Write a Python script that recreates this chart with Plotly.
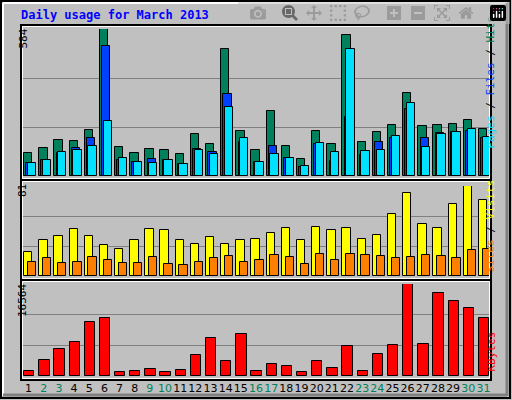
import plotly.graph_objects as go
from plotly.subplots import make_subplots

days = list(range(1, 32))
weekend = [2, 3, 9, 10, 16, 17, 23, 24, 30, 31]

hits = [93, 113, 144, 140, 184, 584, 117, 93, 109, 105, 89, 168, 128, 506, 180, 105,
        260, 120, 69, 180, 128, 561, 136, 176, 204, 331, 200, 204, 208, 224, 188]
files = [53, 65, 90, 111, 152, 518, 65, 57, 69, 65, 49, 109, 97, 327, 136, 57,
         120, 73, 37, 128, 61, 236, 85, 136, 152, 267, 152, 172, 176, 180, 152]
pages = [53, 65, 97, 105, 120, 220, 73, 57, 53, 65, 49, 105, 89, 275, 152, 57,
         89, 73, 41, 132, 97, 506, 101, 105, 160, 291, 117, 168, 176, 188, 156]
visits = [22, 32, 36, 42, 36, 28, 24, 32, 42, 41, 32, 29, 35, 29, 32, 33,
          39, 43, 32, 44, 41, 43, 33, 37, 56, 75, 47, 43, 65, 81, 68]
sites = [13, 16, 12, 13, 17, 14, 12, 12, 17, 11, 10, 13, 16, 18, 13, 14,
         19, 17, 11, 20, 14, 20, 19, 18, 16, 17, 19, 18, 16, 23, 24]
kbytes = [967, 2962, 4776, 6045, 9672, 10397, 786, 967, 1330, 786, 1149, 3869, 6770, 2781, 7496, 967,
          2237, 1874, 786, 2781, 1511, 5320, 967, 4050, 5501, 16564, 5682, 14931, 13480, 12211, 10397]

W, H = 512, 400
def px(x): return x / W
def py(y): return 1 - y / H

fig = make_subplots(rows=3, cols=1, shared_xaxes=True)
edge = dict(color="black", width=1)
fig.add_trace(go.Bar(x=days, y=hits, marker=dict(color="#00805c", line=edge), width=0.55, offset=-0.3), 1, 1)
fig.add_trace(go.Bar(x=days, y=files, marker=dict(color="#0040ff", line=edge), width=0.55, offset=-0.15), 1, 1)
fig.add_trace(go.Bar(x=days, y=pages, marker=dict(color="#00e0ff", line=edge), width=0.55, offset=-0.05), 1, 1)
fig.add_trace(go.Bar(x=days, y=visits, marker=dict(color="#ffff00", line=edge), width=0.55, offset=-0.3), 2, 1)
fig.add_trace(go.Bar(x=days, y=sites, marker=dict(color="#ff8000", line=edge), width=0.55, offset=-0.05), 2, 1)
fig.add_trace(go.Bar(x=days, y=kbytes, marker=dict(color="#ff0000", line=edge), width=0.68, offset=-0.3), 3, 1)

grid = dict(showgrid=True, gridcolor="#808080", gridwidth=1, showticklabels=False,
            zeroline=False, ticks="", showline=False)
fig.update_yaxes(grid, range=[0, 584], tickvals=[584 / 3, 584 * 2 / 3], domain=[py(176), py(29)], row=1, col=1)
fig.update_yaxes(grid, range=[0, 81], tickvals=[81 / 3, 81 * 2 / 3], domain=[py(276), py(186)], row=2, col=1)
fig.update_yaxes(grid, range=[0, 16564], tickvals=[16564 / 3, 16564 * 2 / 3], domain=[py(376), py(284)], row=3, col=1)

ticktext = ["<span style='color:#00805c'>%d</span>" % d if d in weekend else str(d) for d in days]
fig.update_xaxes(range=[0.5, 31.5], domain=[px(21), px(491)], showgrid=False, zeroline=False,
                 showline=False, ticks="", showticklabels=False)
fig.update_xaxes(showticklabels=True, tickvals=days, ticktext=ticktext, tickangle=0,
                 tickfont=dict(family="DejaVu Sans", size=11), ticklabelstandoff=4, row=3, col=1)

shapes = [
    dict(type="rect", xref="paper", yref="paper", x0=px(1), x1=px(510), y0=py(398), y1=py(1),
         line=dict(color="black", width=2)),
    dict(type="line", xref="paper", yref="paper", x0=px(3), x1=px(507), y0=py(3), y1=py(3),
         line=dict(color="white", width=2)),
    dict(type="line", xref="paper", yref="paper", x0=px(3), x1=px(3), y0=py(3), y1=py(396),
         line=dict(color="white", width=2)),
    dict(type="line", xref="paper", yref="paper", x0=px(507), x1=px(507), y0=py(3), y1=py(396),
         line=dict(color="#808080", width=3)),
    dict(type="line", xref="paper", yref="paper", x0=px(3), x1=px(507), y0=py(395), y1=py(395),
         line=dict(color="#808080", width=3)),
]
for y0, y1 in [(25, 180), (180, 280), (280, 380)]:
    shapes.append(dict(type="rect", xref="paper", yref="paper", x0=px(21), x1=px(491),
                       y0=py(y1), y1=py(y0), line=dict(color="black", width=2), layer="above"))
    shapes.append(dict(type="rect", xref="paper", yref="paper", x0=px(22.5), x1=px(489.5),
                       y0=py(y1 - 1.5), y1=py(y0 + 1.5), line=dict(color="white", width=1), layer="above"))

mono = "DejaVu Sans Mono"
ann = [
    dict(x=px(19), y=py(15), text="<b>Daily usage for March 2013</b>", xanchor="left", yanchor="middle",
         font=dict(family=mono, size=12, color="#0000ff")),
    dict(x=px(14), y=py(27), text="584", textangle=-90, yanchor="top"),
    dict(x=px(14), y=py(182), text="81", textangle=-90, yanchor="top"),
    dict(x=px(14), y=py(282), text="16564", textangle=-90, yanchor="top"),
    dict(x=px(499), y=py(82), yanchor="middle", textangle=-90,
         text="<span style='color:#00e0ff'>Pages</span> / <span style='color:#0040ff'>Files</span> / "
              "<span style='color:#00805c'>Hits</span>"),
    dict(x=px(499), y=py(226), yanchor="middle", textangle=-90,
         text="<span style='color:#ff8000'>Sites</span> / <span style='color:#ffff00'>Visits</span>"),
    dict(x=px(499), y=py(352), yanchor="middle", textangle=-90,
         text="<span style='color:#ff0000'>KBytes</span>"),
]
for a in ann:
    a.setdefault("font", dict(family=mono, size=11, color="black"))
    a.update(xref="paper", yref="paper", showarrow=False)

fig.update_layout(width=W, height=H, margin=dict(l=0, r=0, t=0, b=0),
                  paper_bgcolor="#c0c0c0", plot_bgcolor="#c0c0c0", barmode="overlay",
                  bargap=0, showlegend=False, shapes=shapes, annotations=ann,
                  font=dict(family=mono, size=11, color="black"))
fig.write_html("out.html", post_script="document.body.style.margin='0';")
